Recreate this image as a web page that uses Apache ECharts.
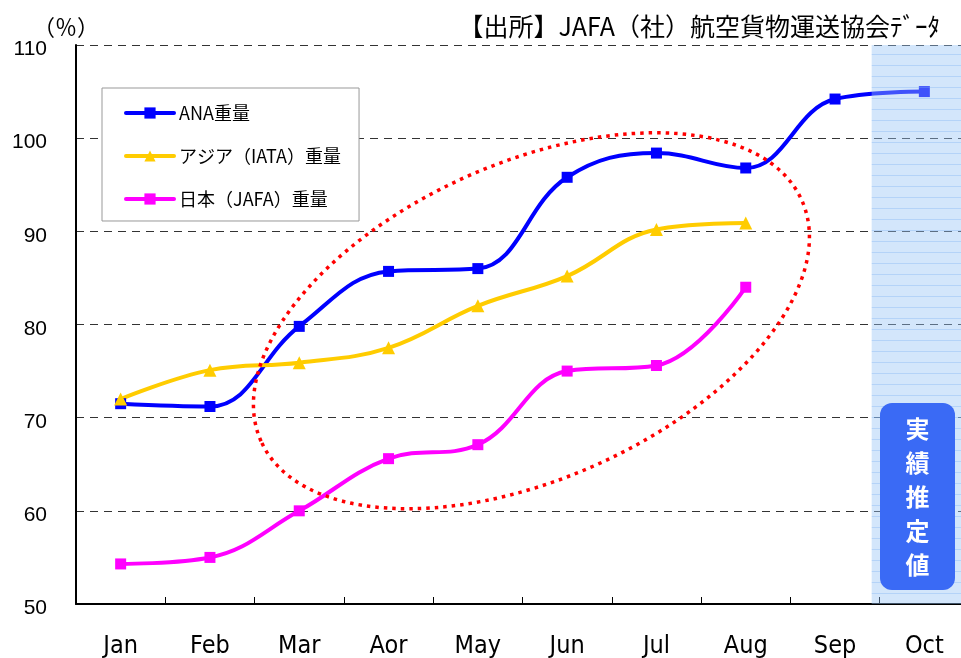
<!DOCTYPE html>
<html><head><meta charset="utf-8">
<script src="https://cdn.jsdelivr.net/npm/echarts@6/dist/echarts.min.js"></script>
<style>html,body{margin:0;padding:0;background:#fff;overflow:hidden}#c{width:961px;height:658px}</style>
</head><body><div id="c"></div>
<script>
const months = ['Jan','Feb','Mar','Aor','May','Jun','Jul','Aug','Sep','Oct'];
const anaWeight = [71.5,71.2,79.8,85.7,86.0,95.8,98.4,96.8,104.2,105.0];
const asiaWeight = [72.0,75.1,75.9,77.5,82.0,85.2,90.2,90.9,null,null];
const japanWeight = [54.3,55.0,60.0,65.6,67.1,75.0,75.6,84.0,null,null];
const yMin = 50, yMax = 110, yStep = 10;
const seriesNames = ['ANA重量','アジア（IATA）重量','日本（JAFA）重量'];
const titleText = '【出所】JAFA（社）航空貨物運送協会ﾃﾞｰﾀ';
const unitText = '（％）';
const estimateText = '実績推定値';

const JP = '"Noto Sans CJK JP", sans-serif';
const NARROW = '"Liberation Sans Narrow","DejaVu Sans Condensed","Noto Sans CJK JP",sans-serif';

const chart = echarts.init(document.getElementById('c'), null, {renderer:'canvas'});

function mkLine(name, data, color, symbol, size){
  return {name, type:'line', data, smooth:0.4, symbol, symbolSize:size,
    showAllSymbol:true, connectNulls:false,
    lineStyle:{width:4,color}, itemStyle:{color}, emphasis:{disabled:true}};
}

const option = {
  animation:false,
  backgroundColor:'#fff',
  title:{text:titleText, right:21, top:14, padding:0,
    textStyle:{fontFamily:JP, fontSize:25, fontWeight:'normal', color:'#000'}},
  legend:{orient:'vertical', left:102, top:88, padding:[16,18,13,22],
    itemGap:25, itemWidth:48, itemHeight:14,
    borderColor:'#999', borderWidth:1, backgroundColor:'#fff',
    lineStyle:{width:4, cap:'round'},
    textStyle:{fontFamily:JP, fontSize:18, color:'#000'},
    data:seriesNames},
  grid:{left:76, top:45, width:893, height:559, containLabel:false, outerBoundsMode:'none'},
  xAxis:{type:'category', data:months, boundaryGap:true,
    axisLine:{lineStyle:{color:'#000', width:2}},
    axisTick:{show:true, inside:true, length:7, interval:0, lineStyle:{color:'#000',width:1}},
    axisLabel:{interval:0, margin:30, fontFamily:NARROW, fontSize:25, color:'#000'},
    splitLine:{show:false}},
  yAxis:{type:'value', min:yMin, max:yMax, interval:yStep,
    axisLine:{show:true, lineStyle:{color:'#000', width:2}},
    axisTick:{show:false},
    axisLabel:{margin:29, verticalAlign:'top', lineHeight:9,
      fontFamily:'"Liberation Sans",Arial,sans-serif', fontSize:21, color:'#000'},
    splitLine:{show:true, lineStyle:{color:'#333', type:[8,6], width:1}}},
  series:[
    mkLine(seriesNames[0], anaWeight, '#0000ff', 'rect', 11),
    mkLine(seriesNames[1], asiaWeight, '#ffcc00', 'triangle', 13),
    mkLine(seriesNames[2], japanWeight, '#ff00ff', 'rect', 11)
  ]
};
chart.setOption(option);

const px = (c, v) => chart.convertToPixel({gridIndex:0}, [c, v]);
const sepP = px('Sep', yMin), octP = px('Oct', yMin), topP = px('Oct', yMax);
const bandLeft = sepP[0] + 0.41 * (octP[0] - sepP[0]);
const mayP = px('May', 80.4), junP = px('Jun', 80.4);
const cx = mayP[0] + 0.6 * (junP[0] - mayP[0]), cy = mayP[1];

// striped pattern for the estimate band
const pc = document.createElement('canvas');
pc.width = 8; pc.height = 11;
const g = pc.getContext('2d');
g.fillStyle = 'rgba(150,195,245,0.42)'; g.fillRect(0,0,8,11);
g.fillStyle = 'rgba(120,175,240,0.35)'; g.fillRect(0,10,8,1);

chart.setOption({graphic:[
  {type:'ellipse', z:50, silent:true, x:cx, y:cy, rotation:24*Math.PI/180,
    shape:{cx:0, cy:0, rx:296, ry:158},
    style:{fill:null, stroke:'#ff0000', lineWidth:3.5, lineDash:[3.5,5]}},
  {type:'rect', z:60, silent:true,
    shape:{x:bandLeft, y:topP[1], width:961-bandLeft, height:sepP[1]-topP[1]},
    style:{fill:{image:pc, repeat:'repeat'}}},
  {type:'rect', z:70, silent:true,
    shape:{x:880, y:403, width:75, height:187, r:12},
    style:{fill:'#3a6af5'}},
  {type:'text', z:80, silent:true, x:917.5, y:497,
    style:{text:estimateText.split('').join('\n'), fill:'#fff',
      fontFamily:'"Noto Sans CJK JP"', fontWeight:'bold', fontSize:24,
      align:'center', verticalAlign:'middle', lineHeight:34}},
  {type:'text', z:80, silent:true, x:66, y:27,
    style:{text:unitText, fill:'#000', fontFamily:'"Noto Sans CJK JP"', fontSize:22,
      align:'center', verticalAlign:'middle'}}
]});
</script></body></html>
